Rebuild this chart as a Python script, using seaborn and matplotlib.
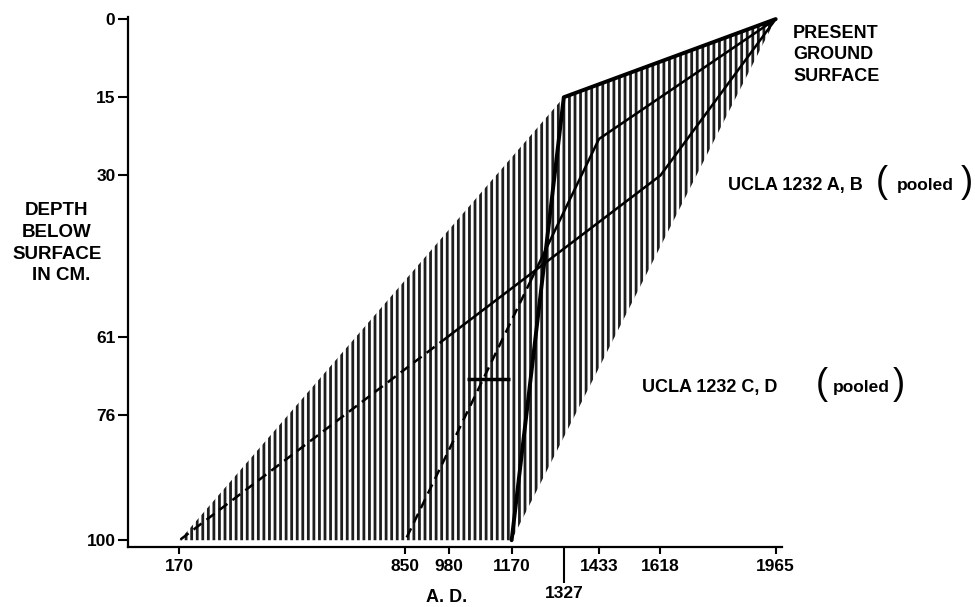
import matplotlib
matplotlib.use("Agg")
import matplotlib.pyplot as plt
import seaborn as sns

# Axis ticks
depth_ticks = [0, 15, 30, 61, 76, 100]
year_ticks = [170, 850, 980, 1170, 1433, 1618, 1965]
year_tick_low = [1327]

# Hatched envelope (year A.D., depth cm)
band_years = [1965, 1327, 170, 1170]
band_depths = [0, 15, 100, 100]

# Heavy line: surface -> 1327 at 15 cm -> 1170 at 100 cm
heavy_years = [1965, 1327, 1170]
heavy_depths = [0, 15, 100]

# Curve through 1433
mid_solid_years = [1965, 1433, 1229]
mid_solid_depths = [0, 23, 50]
mid_dash_years = [1229, 850]
mid_dash_depths = [50, 100]

# Curve through 1618
low_solid_years = [1965, 1618, 977]
low_solid_depths = [0, 30, 61]
low_dash_years = [977, 170]
low_dash_depths = [61, 100]

# Horizontal error bar
err_year = 1100
err_depth = 69
err_half = 65

sns.set_style("ticks")
plt.rcParams["font.family"] = ["Liberation Sans", "DejaVu Sans"]
plt.rcParams["font.weight"] = "bold"
plt.rcParams["hatch.linewidth"] = 2.0
plt.rcParams["text.color"] = "black"
plt.rcParams["xtick.labelcolor"] = "black"
plt.rcParams["ytick.labelcolor"] = "black"

W, H = 975, 607
fig = plt.figure(figsize=(W / 100, H / 100), dpi=100)
ax = fig.add_axes([128 / W, 1 - 547 / H, (782 - 128) / W, (547 - 17) / H])

# hatched band
ax.fill(band_years, band_depths, facecolor="none", edgecolor="#1e1e1e",
        linewidth=0, hatch="|||")

# lines
sns.lineplot(x=heavy_years, y=heavy_depths, sort=False, estimator=None,
             color="black", lw=2.8, ax=ax)
sns.lineplot(x=mid_solid_years, y=mid_solid_depths, sort=False, estimator=None,
             color="black", lw=1.8, ax=ax)
sns.lineplot(x=mid_dash_years, y=mid_dash_depths, sort=False, estimator=None,
             color="black", lw=1.8, linestyle=(0, (4, 2.5)), ax=ax)
sns.lineplot(x=low_solid_years, y=low_solid_depths, sort=False, estimator=None,
             color="black", lw=1.8, ax=ax)
sns.lineplot(x=low_dash_years, y=low_dash_depths, sort=False, estimator=None,
             color="black", lw=1.8, linestyle=(0, (4, 2.5)), ax=ax)

ax.errorbar([err_year], [err_depth], xerr=[err_half], fmt="none",
            ecolor="black", elinewidth=2.5, capsize=0)

ax.set_xlim(15, 1984)
ax.set_ylim(101.3, -0.4)

ax.set_yticks(depth_ticks)
ax.set_yticklabels([str(d) for d in depth_ticks])
ax.set_xticks(year_ticks)
ax.set_xticklabels([str(y) for y in year_ticks])
ax.set_xticks(year_tick_low, minor=True)
ax.set_xticklabels([str(y) for y in year_tick_low], minor=True)

ax.tick_params(axis="y", length=7, width=1.5, pad=2, labelsize=12.5,
               color="black", labelcolor="black")
ax.tick_params(axis="x", which="major", length=5, width=1.5, pad=3.5,
               labelsize=12.5, color="black", labelcolor="black")
ax.tick_params(axis="x", which="minor", length=26, width=1.5, pad=2,
               labelsize=12.5, color="black", labelcolor="black")

sns.despine(ax=ax)
for s in ["left", "bottom"]:
    ax.spines[s].set_linewidth(1.6)
    ax.spines[s].set_color("black")
ax.set_xlabel("")
ax.set_ylabel("")


def px(x, y):
    return x / W, 1 - y / H


# right-hand annotations
for txt, yb in [("PRESENT", 38), ("GROUND", 59), ("SURFACE", 81)]:
    fig.text(*px(793, yb), txt, fontsize=13, va="baseline", ha="left")

fig.text(*px(728, 190), "UCLA 1232 A, B", fontsize=13, va="baseline", ha="left")
fig.text(*px(876, 192), "(", fontsize=26, fontweight="normal", va="baseline", ha="left")
fig.text(*px(897, 190), "pooled", fontsize=12.5, va="baseline", ha="left")
fig.text(*px(961, 192), ")", fontsize=26, fontweight="normal", va="baseline", ha="left")

fig.text(*px(642, 392), "UCLA 1232 C, D", fontsize=13, va="baseline", ha="left")
fig.text(*px(816, 394), "(", fontsize=26, fontweight="normal", va="baseline", ha="left")
fig.text(*px(833, 392), "pooled", fontsize=12.5, va="baseline", ha="left")
fig.text(*px(893, 394), ")", fontsize=26, fontweight="normal", va="baseline", ha="left")

# y-axis label
for txt, yb, xc in [("DEPTH", 215, 57), ("BELOW", 237, 57),
                    ("SURFACE", 259, 57), ("IN CM.", 280, 61)]:
    fig.text(*px(xc, yb), txt, fontsize=13.5, va="baseline", ha="center")

# x-axis label
fig.text(*px(447, 602), "A. D.", fontsize=13, va="baseline", ha="center")

fig.savefig("out.png", dpi=100)
